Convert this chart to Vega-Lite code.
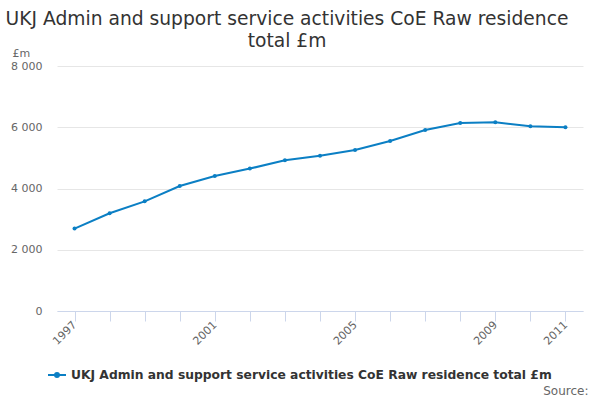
{
  "$schema": "https://vega.github.io/schema/vega-lite/v6.json",
  "autosize": {"type": "none"},
  "padding": {"left": 57, "top": 66, "right": 17, "bottom": 89},
  "width": 526,
  "height": 245,
  "background": "white",
  "title": {
    "text": ["UKJ Admin and support service activities CoE Raw residence", "total £m"],
    "font": "DejaVu Sans",
    "fontSize": 18.7,
    "fontWeight": "normal",
    "color": "#333333",
    "anchor": "middle",
    "dx": -33,
    "offset": -4,
    "lineHeight": 22
  },
  "data": {
    "values": [
      {"year": 1997, "value": 2690, "series": "UKJ Admin and support service activities CoE Raw residence total £m"},
      {"year": 1998, "value": 3190, "series": "UKJ Admin and support service activities CoE Raw residence total £m"},
      {"year": 1999, "value": 3580, "series": "UKJ Admin and support service activities CoE Raw residence total £m"},
      {"year": 2000, "value": 4080, "series": "UKJ Admin and support service activities CoE Raw residence total £m"},
      {"year": 2001, "value": 4410, "series": "UKJ Admin and support service activities CoE Raw residence total £m"},
      {"year": 2002, "value": 4650, "series": "UKJ Admin and support service activities CoE Raw residence total £m"},
      {"year": 2003, "value": 4920, "series": "UKJ Admin and support service activities CoE Raw residence total £m"},
      {"year": 2004, "value": 5070, "series": "UKJ Admin and support service activities CoE Raw residence total £m"},
      {"year": 2005, "value": 5260, "series": "UKJ Admin and support service activities CoE Raw residence total £m"},
      {"year": 2006, "value": 5550, "series": "UKJ Admin and support service activities CoE Raw residence total £m"},
      {"year": 2007, "value": 5910, "series": "UKJ Admin and support service activities CoE Raw residence total £m"},
      {"year": 2008, "value": 6140, "series": "UKJ Admin and support service activities CoE Raw residence total £m"},
      {"year": 2009, "value": 6160, "series": "UKJ Admin and support service activities CoE Raw residence total £m"},
      {"year": 2010, "value": 6030, "series": "UKJ Admin and support service activities CoE Raw residence total £m"},
      {"year": 2011, "value": 6000, "series": "UKJ Admin and support service activities CoE Raw residence total £m"}
    ]
  },
  "mark": {
    "type": "line",
    "strokeWidth": 2,
    "point": {"filled": true, "size": 16}
  },
  "encoding": {
    "x": {
      "field": "year",
      "type": "ordinal",
      "scale": {"type": "point", "padding": 0.5},
      "axis": {
        "title": "Source:",
        "titleFont": "DejaVu Sans",
        "titleFontSize": 12,
        "titleFontWeight": "normal",
        "titleColor": "#666666",
        "titleAnchor": "end",
        "titleAlign": "right",
        "titleBaseline": "bottom",
        "titleX": 531,
        "titleY": 86,
        "labelExpr": "indexof([1997, 2001, 2005, 2009, 2011], +datum.value) >= 0 ? datum.label : ''",
        "labelAngle": -45,
        "labelAlign": "right",
        "labelBaseline": "middle",
        "labelFont": "DejaVu Sans",
        "labelFontSize": 11,
        "labelColor": "#666666",
        "labelPadding": 2,
        "tickSize": 10,
        "tickColor": "#ccd6eb",
        "domainColor": "#ccd6eb",
        "grid": false
      }
    },
    "y": {
      "field": "value",
      "type": "quantitative",
      "scale": {"domain": [0, 8000]},
      "axis": {
        "values": [0, 2000, 4000, 6000, 8000],
        "labelExpr": "replace(format(datum.value, ','), ',', ' ')",
        "title": "£m",
        "titleAngle": 0,
        "titleAlign": "left",
        "titleBaseline": "alphabetic",
        "titleX": -45,
        "titleY": -10,
        "titleFont": "DejaVu Sans",
        "titleFontSize": 11,
        "titleFontWeight": "normal",
        "titleColor": "#666666",
        "labelFont": "DejaVu Sans",
        "labelFontSize": 11,
        "labelColor": "#666666",
        "labelPadding": 15,
        "tickSize": 0,
        "domain": false,
        "gridColor": "#e6e6e6"
      }
    },
    "color": {
      "field": "series",
      "type": "nominal",
      "scale": {"range": ["#0b7fc4"]},
      "legend": {
        "title": null,
        "orient": "none",
        "legendX": -10,
        "legendY": 299,
        "symbolType": "M-1,0L1,0M-0.22,0A0.22,0.22,0,1,1,0.22,0A0.22,0.22,0,1,1,-0.22,0",
        "symbolSize": 324,
        "symbolStrokeWidth": 2,
        "symbolFillColor": "#0b7fc4",
        "labelFont": "DejaVu Sans",
        "labelFontSize": 12.3,
        "labelFontWeight": "bold",
        "labelColor": "#333333",
        "labelLimit": 600
      }
    }
  },
  "config": {
    "view": {"stroke": null}
  }
}
